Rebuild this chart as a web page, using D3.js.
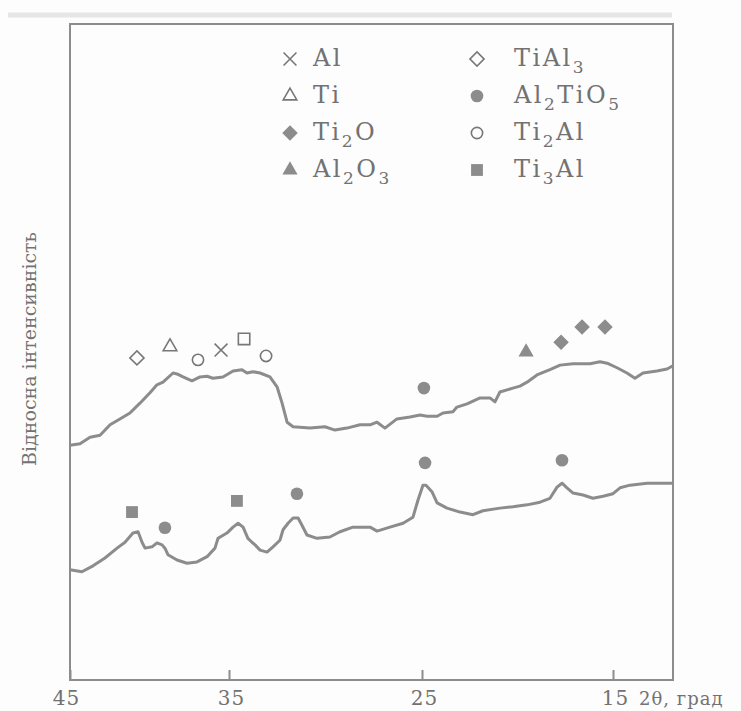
<!DOCTYPE html>
<html>
<head>
<meta charset="utf-8">
<script src="https://cdn.jsdelivr.net/npm/d3@7"></script>
<style>
  body { margin: 0; background: #fdfdfd; font-family: "DejaVu Serif", serif; }
  svg { display: block; }
</style>
</head>
<body>
<svg id="chart"></svg>
<script>
// 2θ (deg) and relative intensity of the upper pattern
var upperAngle = [45.00, 44.37, 43.74, 43.11, 42.48, 41.86, 41.23, 40.60, 39.97, 39.53, 39.15, 38.52, 38.21, 37.89,
    37.33, 36.82, 36.38, 36.01, 35.38, 34.79, 34.33, 34.07, 33.76, 33.39, 32.88, 32.51, 32.25, 31.99, 31.68, 30.80,
    30.03, 29.51, 28.89, 28.21, 27.69, 27.33, 26.92, 26.30, 25.62, 25.10, 24.74, 24.21, 23.90, 23.38, 23.17, 22.64,
    21.96, 21.44, 21.18, 20.92, 20.24, 19.87, 19.50, 18.98, 18.30, 17.77, 17.09, 16.20, 15.68, 15.31, 14.79, 14.27,
    13.85, 13.43, 12.70, 12.17, 11.86];
var upperInt = [35.8, 36.0, 37.0, 37.3, 38.9, 39.8, 40.7, 42.2, 43.8, 45.0, 45.4, 46.8, 46.6, 46.2,
    45.6, 46.2, 46.3, 46.0, 46.2, 47.1, 47.3, 46.8, 47.0, 46.8, 46.2, 44.7, 42.2, 39.3, 38.6, 38.4,
    38.6, 38.1, 38.4, 38.9, 38.9, 39.3, 38.4, 39.8, 40.1, 40.4, 40.2, 40.2, 40.7, 40.9, 41.6, 42.1,
    43.0, 43.0, 42.4, 43.9, 44.5, 44.8, 45.4, 46.5, 47.3, 48.0, 48.2, 48.2, 48.5, 48.3, 47.6, 46.8,
    46.0, 46.8, 47.1, 47.4, 47.9];

// lower pattern
var lowerAngle = [45.00, 44.25, 43.55, 42.80, 42.04, 41.54, 41.04, 40.72, 40.47, 40.28, 39.84, 39.53, 39.21, 39.03,
    38.84, 38.27, 37.64, 37.01, 36.38, 35.88, 35.69, 35.13, 34.79, 34.53, 34.27, 34.02, 33.81, 33.65, 33.39, 33.03,
    32.72, 32.36, 32.20, 31.94, 31.68, 31.42, 31.22, 30.96, 30.44, 29.77, 29.25, 28.58, 27.69, 27.33, 26.66, 25.98,
    25.47, 25.21, 24.95, 24.79, 24.48, 24.21, 23.69, 23.01, 22.33, 21.81, 20.92, 20.24, 19.50, 18.82, 18.30, 17.93,
    17.67, 17.41, 17.09, 16.57, 16.05, 15.52, 15.00, 14.63, 14.11, 13.22, 11.86];
var lowerInt = [16.8, 16.5, 17.4, 18.6, 20.1, 21.0, 22.4, 22.6, 21.0, 20.1, 20.3, 20.9, 20.6, 20.1,
    19.1, 18.3, 17.8, 18.0, 18.8, 20.1, 21.6, 22.4, 23.3, 23.9, 23.3, 21.6, 21.0, 20.6, 19.8, 19.5,
    20.3, 21.3, 22.9, 23.9, 24.7, 24.7, 23.6, 22.1, 21.6, 21.8, 22.6, 23.3, 23.3, 22.7, 23.3, 23.9,
    24.8, 27.4, 29.7, 29.7, 28.7, 27.0, 26.2, 25.6, 25.2, 25.8, 26.2, 26.4, 26.7, 27.1, 27.7, 29.4,
    30.0, 29.3, 28.5, 28.2, 27.7, 28.0, 28.4, 29.3, 29.7, 30.0, 30.0];

// phase marks above the peaks
var peakPhase = ["TiAl3", "Ti", "Ti2Al", "Al", "Ti3Al*", "Ti2Al", "Al2TiO5", "Al2O3", "Ti2O", "Ti2O", "Ti2O",
    "Ti3Al", "Al2TiO5", "Ti3Al", "Al2TiO5", "Al2TiO5", "Al2TiO5"];
var peakAngle = [40.79, 38.71, 36.95, 35.50, 34.22, 33.08, 24.90, 19.55, 17.72, 16.62, 15.42,
    41.10, 39.03, 34.59, 31.48, 24.84, 17.67];
var peakInt = [49.1, 50.8, 48.8, 50.3, 52.0, 49.4, 44.5, 50.0, 51.5, 53.8, 53.8,
    25.6, 23.2, 27.3, 28.4, 33.1, 33.5];

var legendCol1 = ["Al", "Ti", "Ti2O", "Al2O3"];
var legendCol2 = ["TiAl3", "Al2TiO5", "Ti2Al", "Ti3Al"];

var xTicks = [45, 35, 25, 15];
var xTitle = "2θ, град";
var yTitle = "Відносна інтенсивність";

var W = 741, H = 711;
var grey = "#8c8c8c", textGrey = "#727272";
var plotLeft = 70, plotRight = 673, plotTop = 24, plotBottom = 680;

var svg = d3.select("#chart").attr("width", W).attr("height", H);

// the printed axis is not quite uniform, so a piecewise scale
var x = d3.scaleLinear().domain(xTicks).range([plotLeft, 229, 422, 613]);
var y = d3.scaleLinear().domain([0, 100]).range([plotBottom, plotTop]);

// faint scan edge along the top
svg.append("line").attr("x1", 8).attr("x2", 672).attr("y1", 15).attr("y2", 15)
    .attr("stroke", "#e6e6e6").attr("stroke-width", 5);

svg.append("rect")
    .attr("x", plotLeft).attr("y", plotTop)
    .attr("width", plotRight - plotLeft).attr("height", plotBottom - plotTop)
    .attr("fill", "none").attr("stroke", grey).attr("stroke-width", 2);

var xAxis = svg.append("g")
    .attr("transform", "translate(0," + plotBottom + ")")
    .call(d3.axisBottom(x).tickValues(xTicks).tickSizeInner(-10).tickSizeOuter(0).tickPadding(11));
xAxis.select(".domain").remove();
xAxis.selectAll("line").attr("stroke", grey).attr("stroke-width", 2);
xAxis.selectAll("text")
    .attr("fill", textGrey).attr("font-family", "DejaVu Serif").attr("font-size", 20)
    .attr("letter-spacing", 1)
    .attr("dx", function (d) { return d === 45 ? -4 : 2; });

svg.append("text")
    .attr("x", 639).attr("y", 705)
    .attr("fill", textGrey).attr("font-size", 18).attr("letter-spacing", 1)
    .text(xTitle);

svg.append("text")
    .attr("transform", "translate(36,349) rotate(-90)")
    .attr("text-anchor", "middle")
    .attr("fill", textGrey).attr("font-size", 19)
    .text(yTitle);

var line = d3.line().x(function (d) { return x(d[0]); }).y(function (d) { return y(d[1]); });

[[upperAngle, upperInt], [lowerAngle, lowerInt]].forEach(function (s) {
    svg.append("path")
        .datum(d3.zip(s[0], s[1]))
        .attr("d", line)
        .attr("fill", "none")
        .attr("stroke", grey)
        .attr("stroke-width", 3)
        .attr("stroke-linejoin", "round");
});

// marker style per phase
var marks = {
    "Al": { type: d3.symbolTimes, size: 110, fill: false },
    "Ti": { type: d3.symbolTriangle, size: 80, fill: false },
    "Ti2O": { type: d3.symbolSquare, size: 120, fill: true, rot: 45 },
    "Al2O3": { type: d3.symbolTriangle, size: 100, fill: true },
    "TiAl3": { type: d3.symbolSquare, size: 100, fill: false, rot: 45 },
    "Al2TiO5": { type: d3.symbolCircle, size: 125, fill: true },
    "Ti2Al": { type: d3.symbolCircle, size: 100, fill: false },
    "Ti3Al": { type: d3.symbolSquare, size: 140, fill: true },
    "Ti3Al*": { type: d3.symbolSquare, size: 130, fill: false }
};

function drawMark(sel, name) {
    var m = marks[name];
    sel.attr("d", d3.symbol().type(m.type).size(m.size))
        .attr("fill", m.fill ? grey : "none")
        .attr("stroke", m.fill ? "none" : "#777")
        .attr("stroke-width", 1.6);
}

peakPhase.forEach(function (p, i) {
    var m = marks[p];
    svg.append("path")
        .attr("transform", "translate(" + x(peakAngle[i]) + "," + y(peakInt[i]) + ")" + (m.rot ? " rotate(" + m.rot + ")" : ""))
        .call(drawMark, p);
});

// legend, digits set as subscripts
var rowY = [66, 103, 140, 177];
function legendLabel(t, name) {
    var shift = 0;
    name.split(/(\d)/).forEach(function (part) {
        if (!part) return;
        var sub = /\d/.test(part);
        var dy = sub ? 7 - shift : -shift;
        shift = sub ? 7 : 0;
        var ts = t.append("tspan").attr("dy", dy).text(part);
        if (sub) ts.attr("font-size", 17);
    });
}
[[legendCol1, 290, 313], [legendCol2, 477, 514]].forEach(function (col) {
    col[0].forEach(function (name, i) {
        var m = marks[name];
        var g = svg.append("g").attr("transform", "translate(0," + rowY[i] + ")");
        g.append("path")
            .attr("transform", "translate(" + col[1] + ",-7)" + (m.rot ? " rotate(" + m.rot + ")" : ""))
            .call(drawMark, name);
        var t = g.append("text").attr("x", col[2]).attr("y", 0)
            .attr("fill", textGrey).attr("font-size", 24).attr("letter-spacing", 2.5);
        legendLabel(t, name);
    });
});
</script>
</body>
</html>
